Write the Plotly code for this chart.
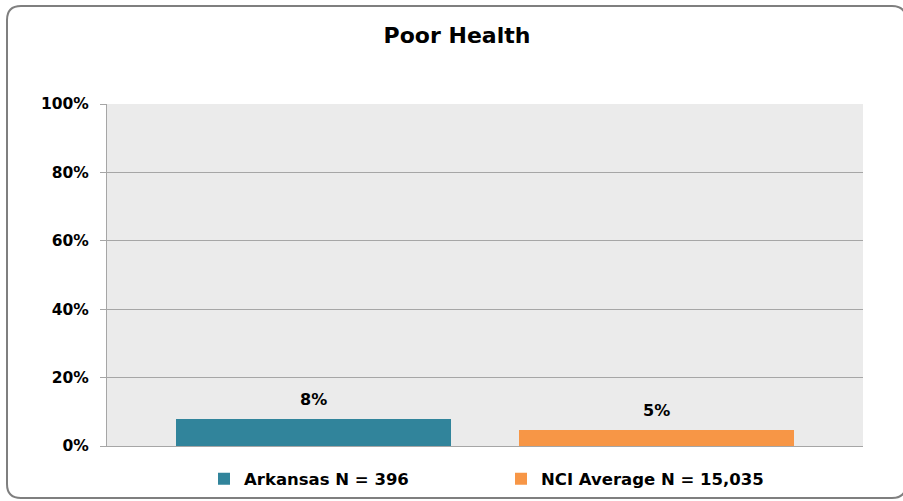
import plotly.graph_objects as go

series_names = ["Arkansas N = 396", "NCI Average N = 15,035"]
values = [7.8, 4.7]
colors = ["#31849B", "#F79646"]
tick_vals = [0, 20, 40, 60, 80, 100]
tick_text = ["0%", "20%", "40%", "60%", "80%", "100%"]
title_text = "Poor Health"

FONT = "DejaVu Sans"
# the page renders 7px shorter than the layout height, so ask for 508
W, H = 903, 508
L, R, T, B = 107, 40, 104, 62
pw, ph = W - L - R, H - T - B

fig = go.Figure()
for i, (name, v, c) in enumerate(zip(series_names, values, colors)):
    fig.add_trace(go.Bar(
        x=[i], y=[v], name=name, width=0.8,
        marker=dict(color=c, line=dict(width=0)),
        hoverinfo="skip",
    ))
    fig.add_annotation(
        x=i, y=v, xref="x", yref="y", text=f"{v:.0f}%", showarrow=False,
        xanchor="center", yanchor="bottom", yshift=8,
        font=dict(family=FONT, size=16, color="#000000", weight="bold"),
    )

def px(x):
    return (x - L) / pw

def py(y):
    return (T + ph - y) / ph

x0, x1, y0, y1, r = 7, 906, 6, 498, 14
path = (
    f"M {px(x0 + r)},{py(y0)} L {px(x1 - r)},{py(y0)} "
    f"Q {px(x1)},{py(y0)} {px(x1)},{py(y0 + r)} "
    f"L {px(x1)},{py(y1 - r)} Q {px(x1)},{py(y1)} {px(x1 - r)},{py(y1)} "
    f"L {px(x0 + r)},{py(y1)} Q {px(x0)},{py(y1)} {px(x0)},{py(y1 - r)} "
    f"L {px(x0)},{py(y0 + r)} Q {px(x0)},{py(y0)} {px(x0 + r)},{py(y0)} Z"
)

fig.update_layout(
    width=W, height=H,
    margin=dict(l=L, r=R, t=T, b=B),
    paper_bgcolor="white",
    plot_bgcolor="#EBEBEB",
    showlegend=True,
    title=dict(text=title_text, x=(457 - L) / pw, xref="paper", xanchor="center",
               y=1 - 35 / H, yanchor="middle", yref="container",
               font=dict(family=FONT, size=22, color="#000000", weight="bold")),
    legend=dict(orientation="h", x=(204 - L) / pw, xanchor="left",
                y=py(479), yanchor="middle",
                font=dict(family=FONT, size=16.5, color="#000000", weight="bold"),
                itemwidth=30, entrywidth=252, entrywidthmode="pixels",
                borderwidth=0, bgcolor="rgba(0,0,0,0)"),
    xaxis=dict(range=[-0.6, 1.6], showticklabels=False, showgrid=False,
               zeroline=False, showline=True, linecolor="#A6A6A6", linewidth=1,
               fixedrange=True),
    yaxis=dict(range=[0, 100], tickvals=tick_vals, ticktext=tick_text,
               showgrid=True, gridcolor="#A6A6A6", gridwidth=1,
               zeroline=False, showline=True, linecolor="#A6A6A6", linewidth=1,
               ticks="outside", ticklen=6, tickcolor="#A6A6A6",
               tickfont=dict(family=FONT, size=15.5, color="#000000", weight="bold"),
               ticklabelstandoff=8),
    shapes=[dict(type="path", xref="paper", yref="paper", path=path,
                 line=dict(color="#7F7F7F", width=2), fillcolor="rgba(0,0,0,0)",
                 layer="below")],
    bargap=0,
)

post = (
    "var de=document.documentElement, b=document.body;"
    "de.style.margin='0';de.style.padding='0';b.style.margin='0';b.style.padding='0';"
    "de.style.overflow='hidden';b.style.overflow='hidden';"
)
fig.write_html("out.html", config={"displayModeBar": False}, post_script=post)
